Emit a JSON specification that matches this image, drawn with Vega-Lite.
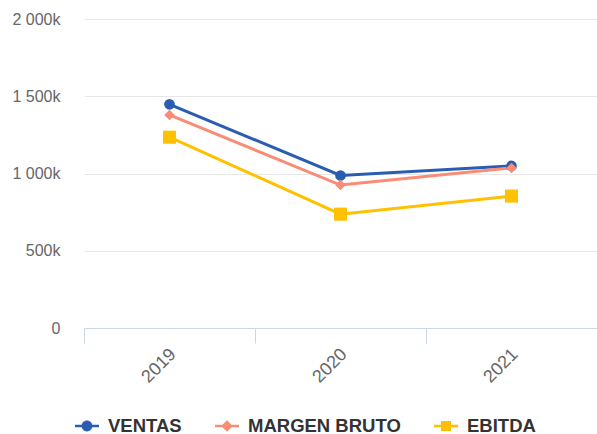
{
  "$schema": "https://vega.github.io/schema/vega-lite/v6.json",
  "width": 513,
  "height": 309,
  "autosize": {"type": "none"},
  "padding": {"left": 84, "top": 19, "right": 0, "bottom": 106},
  "background": "white",
  "config": {
    "view": {"stroke": null},
    "font": "Liberation Sans"
  },
  "data": {
    "values": [
      {"year": "2019", "series": "VENTAS", "value": 1448000},
      {"year": "2020", "series": "VENTAS", "value": 987000},
      {"year": "2021", "series": "VENTAS", "value": 1049000},
      {"year": "2019", "series": "MARGEN BRUTO", "value": 1379000},
      {"year": "2020", "series": "MARGEN BRUTO", "value": 925000},
      {"year": "2021", "series": "MARGEN BRUTO", "value": 1036000},
      {"year": "2019", "series": "EBITDA", "value": 1235000},
      {"year": "2020", "series": "EBITDA", "value": 737000},
      {"year": "2021", "series": "EBITDA", "value": 854000}
    ]
  },
  "encoding": {
    "x": {
      "field": "year", "type": "nominal",
      "scale": {"type": "band", "paddingInner": 0, "paddingOuter": 0},
      "axis": {
        "title": null, "labelAngle": -45, "labelFontSize": 18, "labelColor": "#666666",
        "domainColor": "#ccd6eb", "tickColor": "#ccd6eb", "tickSize": 15, "tickBand": "extent",
        "labelPadding": 2, "labelOffset": -3, "grid": false
      }
    },
    "y": {
      "field": "value", "type": "quantitative",
      "scale": {"domain": [0, 2000000], "nice": false},
      "axis": {
        "title": null, "values": [0, 500000, 1000000, 1500000, 2000000],
        "labelExpr": "datum.value == 0 ? '0' : replace(format(datum.value/1000, ','), ',', ' ') + 'k'",
        "labelFontSize": 16, "labelColor": "#666666", "labelPadding": 24,
        "domain": false, "ticks": false, "gridColor": "#e6e6e6", "gridWidth": 1
      }
    },
    "color": {
      "field": "series", "type": "nominal",
      "scale": {"domain": ["VENTAS", "MARGEN BRUTO", "EBITDA"], "range": ["#2a5db0", "#fa8b74", "#ffc000"]},
      "legend": {
        "title": null, "orient": "none", "direction": "horizontal", "legendX": -9, "legendY": 395,
        "labelFontSize": 18.5, "labelFontWeight": "bold", "labelColor": "#333333",
        "symbolSize": 576, "symbolStrokeWidth": 0, "labelOffset": 9, "columnPadding": 33,
        "gridAlign": "none", "padding": 0,
        "encode": {
          "symbols": {
            "update": {
              "shape": {"signal": "datum.value == 'VENTAS' ? 'M-1,-0.1H1V0.1H-1Z M-0.45,0A0.45,0.45 0 1,1 0.45,0A0.45,0.45 0 1,1 -0.45,0Z' : datum.value == 'MARGEN BRUTO' ? 'M-1,-0.1H1V0.1H-1Z M0,-0.48L0.48,0L0,0.48L-0.48,0Z' : 'M-1,-0.1H1V0.1H-1Z M-0.42,-0.42H0.42V0.42H-0.42Z'"}
            }
          }
        }
      }
    }
  },
  "layer": [
    {"mark": {"type": "line", "strokeWidth": 3}},
    {
      "transform": [{"filter": "datum.series == 'VENTAS'"}],
      "mark": {"type": "point", "filled": true, "opacity": 1, "shape": "circle", "size": 115}
    },
    {
      "transform": [{"filter": "datum.series == 'MARGEN BRUTO'"}],
      "mark": {"type": "point", "filled": true, "opacity": 1, "shape": "diamond", "size": 110}
    },
    {
      "transform": [{"filter": "datum.series == 'EBITDA'"}],
      "mark": {"type": "point", "filled": true, "opacity": 1, "shape": "square", "size": 170}
    }
  ]
}
